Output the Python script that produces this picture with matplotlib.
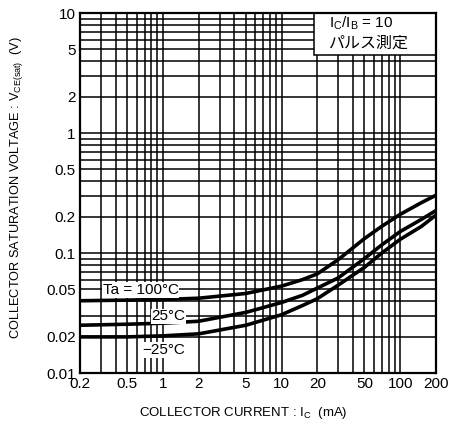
import numpy as np
import matplotlib
matplotlib.use("Agg")
import matplotlib.pyplot as plt
from matplotlib.ticker import FixedLocator, FixedFormatter, LogLocator, NullFormatter

plt.rcParams['font.family'] = ['Liberation Sans', 'Noto Sans CJK JP', 'DejaVu Sans']
plt.rcParams['mathtext.fontset'] = 'custom'
plt.rcParams['mathtext.rm'] = 'Liberation Sans'
plt.rcParams['mathtext.it'] = 'Liberation Sans'

# collector current (mA) and VCE(sat) (V)
ic_ma = [0.2, 0.5, 1, 2, 5, 10, 15, 20, 30, 50, 70, 100, 150, 200]
vce_100 = [0.040, 0.0405, 0.041, 0.042, 0.046, 0.053, 0.060, 0.067, 0.088,
           0.132, 0.167, 0.210, 0.262, 0.303]
vce_25 = [0.025, 0.0255, 0.026, 0.027, 0.032, 0.0387, 0.0444, 0.051, 0.062,
          0.090, 0.117, 0.151, 0.190, 0.226]
vce_m25 = [0.020, 0.020, 0.0204, 0.0212, 0.025, 0.0306, 0.0365, 0.0416, 0.054,
           0.076, 0.100, 0.130, 0.166, 0.207]

x_ticks = [0.2, 0.5, 1, 2, 5, 10, 20, 50, 100, 200]
x_labels = ['0.2', '0.5', '1', '2', '5', '10', '20', '50', '100', '200']
y_ticks = [0.01, 0.02, 0.05, 0.1, 0.2, 0.5, 1, 2, 5, 10]
y_labels = ['0.01', '0.02', '0.05', '0.1', '0.2', '0.5', '1', '2', '5', '10']

fig = plt.figure(figsize=(4.54, 4.23), dpi=100)
ax = fig.add_axes([0.1762, 0.1182, 0.784, 0.851])
ax.set_xscale('log')
ax.set_yscale('log')
ax.set_xlim(0.2, 200)
ax.set_ylim(0.01, 10)
ax.set_axisbelow(True)

# log paper grid
ax.xaxis.set_major_locator(FixedLocator(x_ticks))
ax.xaxis.set_major_formatter(FixedFormatter(x_labels))
ax.yaxis.set_major_locator(FixedLocator(y_ticks))
ax.yaxis.set_major_formatter(FixedFormatter(y_labels))
ax.xaxis.set_minor_locator(LogLocator(base=10, subs=np.arange(1, 10)))
ax.yaxis.set_minor_locator(LogLocator(base=10, subs=np.arange(1, 10)))
ax.xaxis.set_minor_formatter(NullFormatter())
ax.yaxis.set_minor_formatter(NullFormatter())
ax.grid(True, which='both', color='black', linewidth=1.1)
ax.tick_params(which='both', length=0, labelsize=11, pad=3)
for s in ax.spines.values():
    s.set_linewidth(1.6)
    s.set_zorder(6)

for v in (vce_100, vce_25, vce_m25):
    ax.plot(ic_ma, v, color='black', linewidth=2.6, solid_capstyle='butt',
            solid_joinstyle='round', zorder=3)

box = dict(facecolor='white', edgecolor='none', pad=0.5)
ax.text(0.31, 0.0492, 'Ta = 100°C', fontsize=11, ha='left', va='center', bbox=box, zorder=4)
ax.text(1.11, 0.0296, '25°C', fontsize=11, ha='center', va='center', bbox=box, zorder=4)
ax.text(1.02, 0.0155, '−25°C', fontsize=11, ha='center', va='center', bbox=box, zorder=4)

ax.add_patch(plt.Rectangle((0.657, 0.883), 0.343, 0.117, transform=ax.transAxes,
                           facecolor='white', edgecolor='black', linewidth=1.1, zorder=4))
ax.text(0.70, 0.972, 'I$_{\\rm C}$/I$_{\\rm B}$ = 10', transform=ax.transAxes, fontsize=11,
        ha='left', va='center', zorder=5)
ax.text(0.70, 0.915, 'パルス測定', transform=ax.transAxes, fontsize=11.5,
        ha='left', va='center', zorder=5)

fig.text(0.535, 0.024, 'COLLECTOR CURRENT : I$_{\\rm C}$  (mA)', fontsize=9.5,
         ha='center', va='center')
fig.text(0.037, 0.557, 'COLLECTOR SATURATION VOLTAGE : V$_{\\rm CE(sat)}$  (V)', fontsize=9.2,
         ha='center', va='center', rotation=90)

fig.savefig('out.png', dpi=100)
